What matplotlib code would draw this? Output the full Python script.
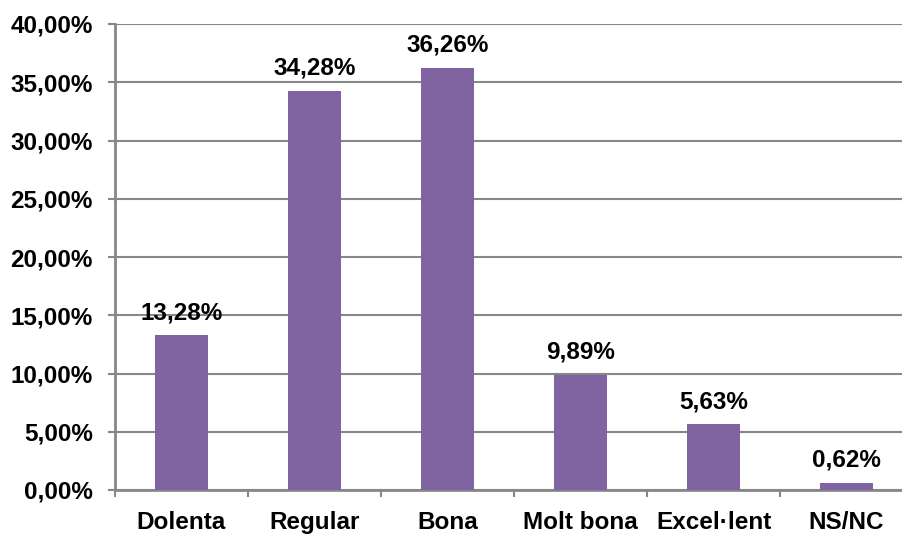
import numpy as np
import matplotlib.pyplot as plt
import matplotlib as mpl
from matplotlib.ticker import FuncFormatter, FixedLocator

categories = ["Dolenta", "Regular", "Bona", "Molt bona", "Excel·lent", "NS/NC"]
values = [13.28, 34.28, 36.26, 9.89, 5.63, 0.62]
yticks = [0, 5, 10, 15, 20, 25, 30, 35, 40]

BAR = "#8064A2"
GRID = "#878787"
FS = 17.5

mpl.rcParams["font.family"] = ["Liberation Sans", "DejaVu Sans"]
mpl.rcParams["font.weight"] = "bold"


def pct(v):
    return f"{v:.2f}%".replace(".", ",")


def main():
    fig = plt.figure(figsize=(9.02, 5.39), dpi=100)
    ax = fig.add_axes([115 / 902, 49 / 539, 798 / 902, 466 / 539])

    x = np.arange(len(categories))
    bars = ax.bar(x, values, width=0.4, color=BAR, zorder=3)

    for b, v in zip(bars, values):
        ax.annotate(
            pct(v),
            (b.get_x() + b.get_width() / 2, v),
            xytext=(0, 11.5),
            textcoords="offset points",
            ha="center",
            va="baseline",
            fontsize=FS,
            fontweight="bold",
        )

    ax.set_xlim(-0.5, len(categories) - 0.5)
    ax.set_ylim(0, 40)
    ax.set_yticks(yticks)
    ax.yaxis.set_major_formatter(FuncFormatter(lambda v, _: pct(v)))
    ax.yaxis.grid(True, color=GRID, linewidth=1.5, zorder=0)
    ax.set_axisbelow(True)

    # category labels centred, tick marks on slot boundaries
    ax.set_xticks(x)
    ax.set_xticklabels(categories, fontsize=FS, fontweight="bold")
    ax.tick_params(axis="x", which="major", length=0, pad=15)
    ax.xaxis.set_minor_locator(FixedLocator(np.arange(-0.5, len(categories), 1.0)))
    ax.tick_params(axis="x", which="minor", length=5, width=1.5, color=GRID)
    ax.tick_params(axis="y", length=5, width=1.5, color=GRID, pad=11,
                   labelsize=FS)

    for s in ["top", "right"]:
        ax.spines[s].set_visible(False)
    for s in ["left", "bottom"]:
        ax.spines[s].set_color(GRID)
        ax.spines[s].set_linewidth(2)

    return fig, ax


if __name__ == "__main__":
    fig, _ = main()
    fig.savefig("out.png", dpi=100)
